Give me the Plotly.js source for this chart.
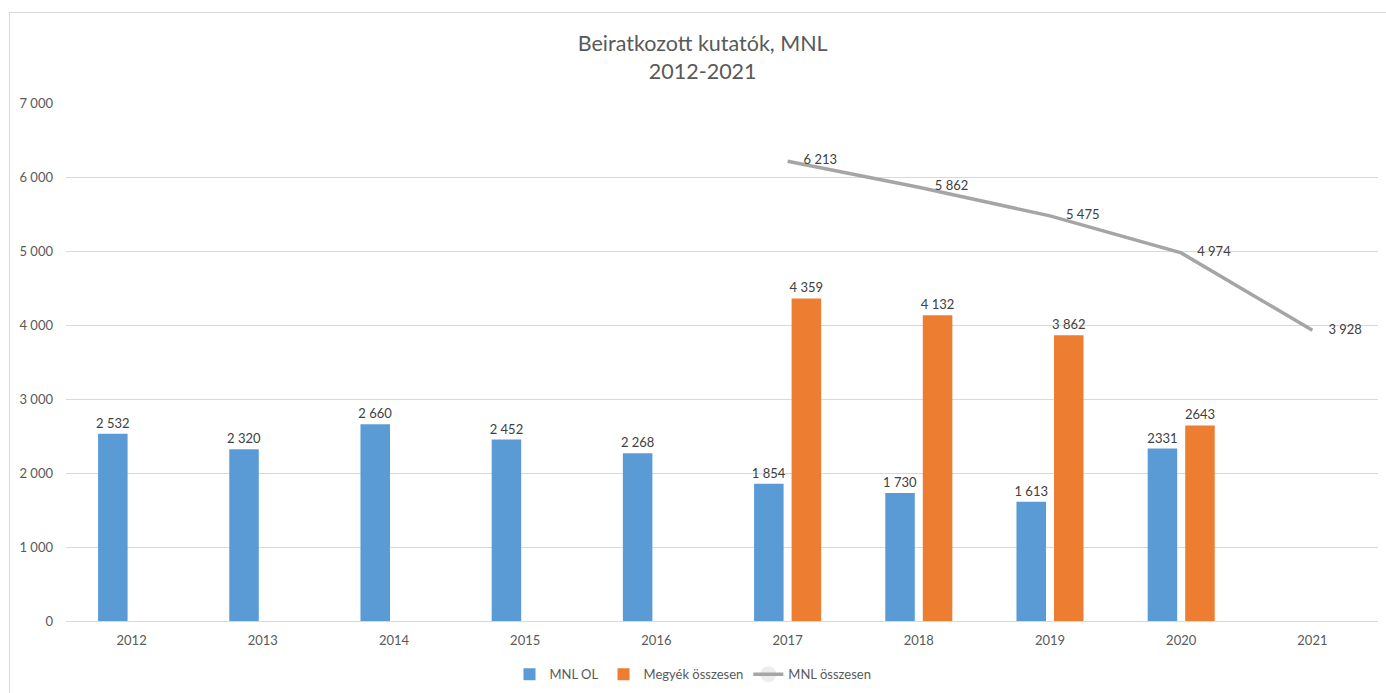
<!DOCTYPE html>
<html>
<head>
<meta charset="utf-8">
<script src="https://cdn.plot.ly/plotly-3.0.1.min.js"></script>
<style>
  html, body { margin: 0; padding: 0; background: #fff; }
  #wrap { position: relative; width: 1386px; height: 693px; overflow: hidden; }
  #chart { position: absolute; left: 0; top: 0; width: 1386px; height: 693px; }
  #frame { position: absolute; left: 9px; top: 12px; width: 1385px; height: 690px; border: 1px solid #D9D9D9; box-sizing: border-box; pointer-events: none; }
</style>
</head>
<body>
<div id="wrap">
  <div id="chart"></div>
  <div id="frame"></div>
</div>
<script>
const years = ['2012','2013','2014','2015','2016','2017','2018','2019','2020','2021'];
const mnlOL = [2532, 2320, 2660, 2452, 2268, 1854, 1730, 1613, 2331, null];
const mnlOLLabels = ['2 532','2 320','2 660','2 452','2 268','1 854','1 730','1 613','2331',''];
const megyek = [null, null, null, null, null, 4359, 4132, 3862, 2643, null];
const megyekLabels = ['','','','','','4 359','4 132','3 862','2643',''];
const osszesen = [null, null, null, null, null, 6213, 5862, 5475, 4974, 3928];
const osszesenLabels = ['','','','','','6 213','5 862','5 475','4 974','3 928'];

const FONT = 'Lato, "Open Sans", "Noto Sans", sans-serif';

const traces = [
  {
    type: 'bar', name: 'MNL OL', x: years, y: mnlOL,
    marker: { color: '#5B9BD5' },
    text: mnlOLLabels, textposition: 'outside', cliponaxis: false, constraintext: 'none',
    textfont: { family: FONT, size: 13, color: '#404040' },
    hoverinfo: 'x+y'
  },
  {
    type: 'bar', name: 'Megyék összesen', x: years, y: megyek,
    marker: { color: '#ED7D31' },
    text: megyekLabels, textposition: 'outside', cliponaxis: false, constraintext: 'none',
    textfont: { family: FONT, size: 13, color: '#404040' },
    hoverinfo: 'x+y'
  },
  {
    type: 'scatter', name: 'MNL összesen', x: years, y: osszesen,
    mode: 'lines+markers+text',
    line: { color: '#A5A5A5', width: 3.5 },
    marker: { size: 24, opacity: 0, color: '#A5A5A5' },
    text: osszesenLabels, textposition: 'middle right', cliponaxis: false,
    textfont: { family: FONT, size: 13, color: '#404040' },
    connectgaps: false
  }
];

const layout = {
  width: 1386, height: 693,
  margin: { l: 66, r: 8, t: 103, b: 72, pad: 0 },
  paper_bgcolor: '#ffffff', plot_bgcolor: '#ffffff',
  separators: ', ',
  font: { family: FONT, color: '#595959', size: 12 },
  title: {
    text: 'Beiratkozott kutatók, MNL<br>2012-2021',
    font: { family: FONT, size: 21.5, color: '#595959' },
    x: 0.507, xref: 'container', xanchor: 'center',
    y: 0.926, yref: 'container', yanchor: 'middle'
  },
  barmode: 'group', bargap: 0.428, bargroupgap: 0.213,
  xaxis: {
    type: 'category', range: [-0.5, 9.5], autorange: false,
    showgrid: false, zeroline: false, automargin: false,
    showline: false, ticks: '',
    tickfont: { family: FONT, size: 13, color: '#595959' },
    ticklabelstandoff: 10
  },
  yaxis: {
    range: [0, 7000], autorange: false, dtick: 1000, tickformat: ',d', automargin: false,
    showgrid: true, gridcolor: '#D9D9D9', gridwidth: 1,
    zeroline: true, zerolinecolor: '#D9D9D9', zerolinewidth: 1,
    showline: false, ticks: '',
    tickfont: { family: FONT, size: 13, color: '#595959' },
    ticklabelstandoff: 12
  },
  showlegend: true,
  legend: {
    orientation: 'h', x: 0.5, xref: 'container', xanchor: 'center',
    y: 0.027, yref: 'container', yanchor: 'middle',
    font: { family: FONT, size: 13, color: '#595959' },
    traceorder: 'normal', itemwidth: 30
  }
};

Plotly.newPlot('chart', traces, layout, { displayModeBar: false, staticPlot: true });
</script>
</body>
</html>
